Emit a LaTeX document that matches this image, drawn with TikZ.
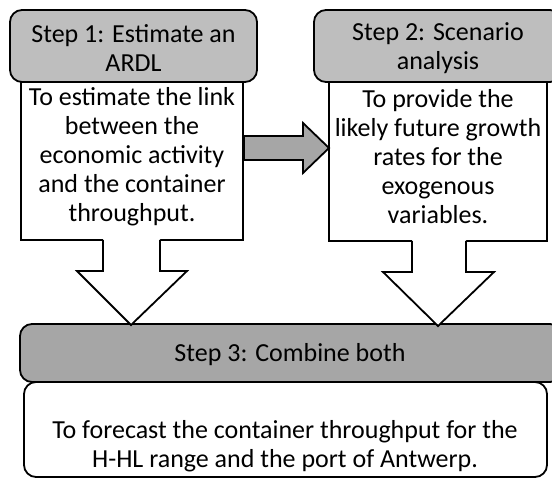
\documentclass[tikz,border=0pt]{standalone}
\usepackage{fontspec}
\setmainfont{Carlito}
\definecolor{hdrgray}{RGB}{190,190,190}
\definecolor{hdrdark}{RGB}{166,166,166}
\definecolor{arrgray}{RGB}{166,166,166}
\begin{document}
\begin{tikzpicture}[x=1pt,y=-1pt,
  lw/.style={line width=1.8pt},
  hdr/.style={lw,draw=black,fill=hdrgray,rounded corners=12pt},
  bodybox/.style={lw,draw=black,fill=white},
  txt/.style={align=center,font=\fontsize{26}{29}\selectfont,inner sep=0pt}]
\useasboundingbox (0,0) rectangle (552,478);
\clip (0,0) rectangle (552,478);
% headers
\draw[hdr] (10,10) rectangle (257,82);
\node[txt] (h1) at (133.5,48) {Step 1: Estimate an\\ARDL};
\draw[hdr] (314,10) rectangle (562,82);
\node[txt] (h2) at (438,48) {Step 2: Scenario\\analysis};
% bodies
\draw[bodybox] (21,82) rectangle (243,240);
\node[txt] (t1) at (132,157) {To estimate the link\\between the\\economic activity\\and the container\\throughput.};
\draw[bodybox] (329,82) rectangle (547,241);
\node[txt] (t2) at (438,157) {To provide the\\likely future growth\\rates for the\\exogenous\\variables.};
% right arrow
\draw[lw,fill=arrgray,line join=miter] (244,136) -- (303,136) -- (303,123) -- (329,148) -- (303,173) -- (303,160) -- (244,160) -- cycle;
% step 3
\draw[hdr,fill=hdrdark] (20,324) rectangle (562,382);
\node[txt] (h3) at (290,355) {Step 3: Combine both};
\draw[bodybox,rounded corners=12pt] (24,382) rectangle (547,477);
\node[txt] (t3) at (285,446) {To forecast the container throughput for the\\H-HL range and the port of Antwerp.};
% down arrows
\fill[white] (103,238) -- (103,271) -- (77,271) -- (131,325) -- (187,271) -- (160,271) -- (160,238) -- cycle;
\draw[lw,line join=miter] (103,240) -- (103,271) -- (77,271) -- (131,325) -- (187,271) -- (160,271) -- (160,240);
\fill[white] (412,239) -- (412,272) -- (383,272) -- (438,326) -- (494,272) -- (466,272) -- (466,239) -- cycle;
\draw[lw,line join=miter] (412,241) -- (412,272) -- (383,272) -- (438,326) -- (494,272) -- (466,272) -- (466,241);
\end{tikzpicture}
\end{document}
